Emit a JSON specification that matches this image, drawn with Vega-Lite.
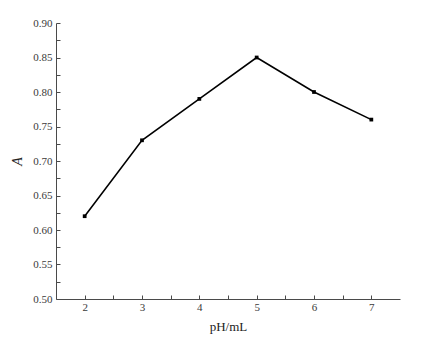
{
  "$schema": "https://vega.github.io/schema/vega-lite/v6.json",
  "autosize": "none",
  "width": 344,
  "height": 276,
  "padding": {"left": 56, "top": 23, "right": 25, "bottom": 54},
  "background": "white",
  "config": {
    "view": {"stroke": null},
    "axis": {
      "grid": false,
      "domainColor": "#4a4a4a",
      "tickColor": "#4a4a4a",
      "labelColor": "#3a3a3a",
      "titleColor": "#222",
      "labelFont": "Liberation Serif",
      "titleFont": "Liberation Serif",
      "labelFontSize": 11,
      "titleFontSize": 13,
      "titleFontWeight": "normal"
    }
  },
  "data": {"values": [
    {"pH": 2, "A": 0.62},
    {"pH": 3, "A": 0.73},
    {"pH": 4, "A": 0.79},
    {"pH": 5, "A": 0.85},
    {"pH": 6, "A": 0.80},
    {"pH": 7, "A": 0.76}
  ]},
  "encoding": {
    "x": {
      "field": "pH", "type": "quantitative",
      "scale": {"domain": [1.5, 7.5], "nice": false, "zero": false},
      "axis": {
        "title": "pH/mL",
        "values": [2, 2.5, 3, 3.5, 4, 4.5, 5, 5.5, 6, 6.5, 7],
        "labelExpr": "datum.value % 1 == 0 ? format(datum.value, 'd') : ''",
        "tickSize": -4,
        "labelPadding": 6,
        "titlePadding": 8
      }
    },
    "y": {
      "field": "A", "type": "quantitative",
      "scale": {"domain": [0.5, 0.9], "nice": false, "zero": false},
      "axis": {
        "title": "A",
        "titleFontStyle": "italic",
        "titleFontSize": 14,
        "values": [0.5, 0.525, 0.55, 0.575, 0.6, 0.625, 0.65, 0.675, 0.7, 0.725, 0.75, 0.775, 0.8, 0.825, 0.85, 0.875, 0.9],
        "labelExpr": "abs(datum.value*20 - round(datum.value*20)) < 0.001 ? format(datum.value, '.2f') : ''",
        "tickSize": -4,
        "labelPadding": 8,
        "titlePadding": 8
      }
    }
  },
  "layer": [
    {"mark": {"type": "line", "color": "black", "strokeWidth": 1.6}},
    {"mark": {"type": "point", "shape": "square", "filled": true, "color": "black", "size": 14, "opacity": 1}}
  ]
}
